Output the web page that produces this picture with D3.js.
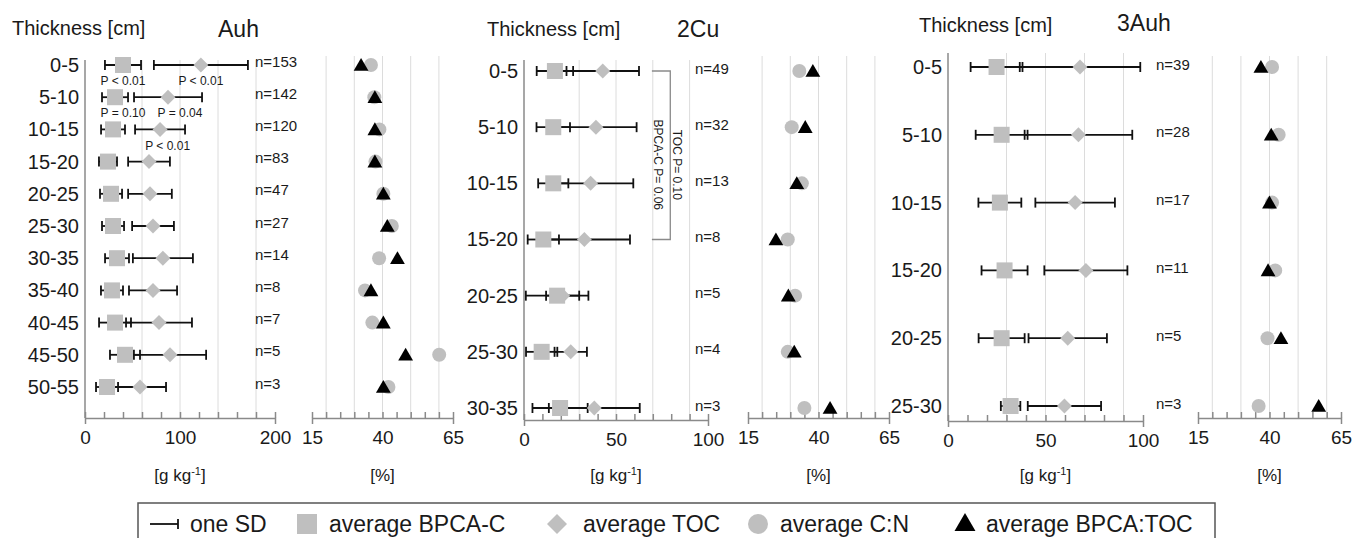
<!DOCTYPE html>
<html>
<head>
<meta charset="utf-8">
<script src="https://cdn.jsdelivr.net/npm/d3@7"></script>
<style>
  body { margin: 0; background: #fff; }
  text { font-family: "Liberation Sans", Arial, sans-serif; fill: #1a1a1a; }
</style>
</head>
<body>
<div id="chart"></div>
<script>
// Auh horizon
var depthsAuh = ["0-5", "5-10", "10-15", "15-20", "20-25", "25-30", "30-35", "35-40", "40-45", "45-50", "50-55"];
var nAuh = [153, 142, 120, 83, 47, 27, 14, 8, 7, 5, 3];
var bpcaAuh = [40, 31.6, 29.5, 24.2, 27.4, 29.5, 33.7, 28.4, 31.6, 42.1, 23.2];
var bpcaSdAuh = [19, 13.7, 12.6, 9.5, 11.6, 11.6, 12.6, 11.6, 16.8, 15.8, 11.6];
var tocAuh = [122, 87.4, 79, 67.4, 68.4, 71.6, 82, 71.6, 77.9, 89.5, 57.9];
var tocSdAuh = [49.5, 35.8, 26.3, 22, 23, 22, 31.6, 25.3, 34.7, 38, 27.4];
var cnAuh = [35.9, 37.1, 38.9, 37.5, 40.3, 43.3, 38.8, 33.8, 36.4, 60.1, 42.1];
var ratioAuh = [32.4, 37.3, 37.3, 37.3, 40.3, 41.7, 45.3, 35.9, 40.3, 48.2, 40.3];

// 2Cu horizon
var depths2Cu = ["0-5", "5-10", "10-15", "15-20", "20-25", "25-30", "30-35"];
var n2Cu = [49, 32, 13, 8, 5, 4, 3];
var bpca2Cu = [16.8, 15.9, 15.9, 10.5, 18, 9.6, 19.6];
var bpcaSd2Cu = [9.9, 9.1, 8.2, 8.5, 17, 8.5, 15];
var toc2Cu = [42.8, 39.1, 36.2, 32.8, 21, 25.4, 38.2];
var tocSd2Cu = [19.7, 22.1, 23.2, 24.8, 9, 8.8, 24.7];
var cn2Cu = [33.2, 30.5, 34.1, 29.1, 31.7, 29.1, 35];
var ratio2Cu = [38.0, 35.3, 32.3, 24.9, 29.3, 31.4, 44.1];

// 3Auh horizon
var depths3Auh = ["0-5", "5-10", "10-15", "15-20", "20-25", "25-30"];
var n3Auh = [39, 28, 17, 11, 5, 3];
var bpca3Auh = [24.9, 27.5, 26.6, 29, 27.5, 32.1];
var bpcaSd3Auh = [13.3, 13.3, 11, 11.8, 11.8, 5];
var toc3Auh = [67.7, 66.9, 65.2, 70.7, 61.4, 59.7];
var tocSd3Auh = [30.9, 27.6, 20.4, 21.3, 20.1, 18.8];
var cn3Auh = [40.9, 43.2, 40.9, 42, 39.3, 36.2];
var ratio3Auh = [37, 40.6, 40, 39.5, 44, 57.2];

// P values (Auh): text, value position, row position (between rows)
var pTextAuh = ["P < 0.01", "P < 0.01", "P = 0.10", "P = 0.04", "P < 0.01"];
var pValAuh = [40, 122, 40, 100, 87];
var pRowAuh = [0.5, 0.5, 1.5, 1.5, 2.5];

var pctTicks = [15, 20, 25, 30, 35, 40, 45, 50, 55, 60, 65];
var pctLabels = [15, 40, 65];
var pctGrid = [20, 30, 40, 50, 60];

var grey = "#bfbfbf", axisCol = "#8a8a8a", gridCol = "#dcdcdc";

var panels = [
  { title: "Auh", depths: depthsAuh, n: nAuh, bpca: bpcaAuh, bpcaSd: bpcaSdAuh, toc: tocAuh, tocSd: tocSdAuh,
    cn: cnAuh, ratio: ratioAuh, max: 200, ticks: d3.range(0, 201, 20), labels: [0, 100, 200], grid: [60, 100, 140, 180],
    xL: [85, 275], xR: [312, 453], yTop: 60, yBot: 418, yRight: 418, rows: [65, 387], nX: 255, nDy: -4,
    thickX: 12, thickY: 35, titleX: 218, titleY: 37 },
  { title: "2Cu", depths: depths2Cu, n: n2Cu, bpca: bpca2Cu, bpcaSd: bpcaSd2Cu, toc: toc2Cu, tocSd: tocSd2Cu,
    cn: cn2Cu, ratio: ratio2Cu, max: 100, ticks: d3.range(0, 101, 10), labels: [0, 50, 100], grid: [30, 50, 70, 90],
    xL: [524, 708], xR: [748, 889], yTop: 60, yBot: 420, yRight: 418, rows: [71, 408], nX: 695, nDy: -3,
    thickX: 487, thickY: 36, titleX: 677, titleY: 37 },
  { title: "3Auh", depths: depths3Auh, n: n3Auh, bpca: bpca3Auh, bpcaSd: bpcaSd3Auh, toc: toc3Auh, tocSd: tocSd3Auh,
    cn: cn3Auh, ratio: ratio3Auh, max: 100, ticks: d3.range(0, 101, 10), labels: [0, 50, 100], grid: [30, 50, 70, 90],
    xL: [948, 1143], xR: [1198, 1341], yTop: 53, yBot: 421, yRight: 418, rows: [67, 406], nX: 1156, nDy: -3,
    thickX: 919, thickY: 32, titleX: 1117, titleY: 31 }
];

var svg = d3.select("#chart")
  .append("svg")
  .attr("width", 1353)
  .attr("height", 538);

function styleAxis(sel) {
  sel.attr("font-family", null).attr("font-size", null);
  sel.select(".domain").attr("stroke", axisCol).attr("stroke-width", 1.5);
  sel.selectAll(".tick line").attr("stroke", axisCol).attr("stroke-width", 1.5);
  sel.selectAll(".tick text").attr("fill", "#1a1a1a").style("font-size", "19px");
}

function errorBar(g, cls, data, x, y) {
  var eb = g.selectAll("." + cls).data(data).enter().append("g").attr("class", cls);
  eb.append("line")
    .attr("x1", d => x(d.m - d.sd)).attr("x2", d => x(d.m + d.sd))
    .attr("y1", d => y(d.depth)).attr("y2", d => y(d.depth));
  eb.append("line")
    .attr("x1", d => x(d.m - d.sd)).attr("x2", d => x(d.m - d.sd))
    .attr("y1", d => y(d.depth) - 5).attr("y2", d => y(d.depth) + 5);
  eb.append("line")
    .attr("x1", d => x(d.m + d.sd)).attr("x2", d => x(d.m + d.sd))
    .attr("y1", d => y(d.depth) - 5).attr("y2", d => y(d.depth) + 5);
  eb.selectAll("line").attr("stroke", "#111").attr("stroke-width", 1.8);
}

panels.forEach(function(p) {
  var g = svg.append("g");
  var y = d3.scalePoint().domain(p.depths).range(p.rows);
  var x = d3.scaleLinear().domain([0, p.max]).range(p.xL);
  var xr = d3.scaleLinear().domain([15, 65]).range(p.xR);

  // gridlines
  g.selectAll(".gl").data(p.grid).enter().append("line")
    .attr("x1", d => x(d)).attr("x2", d => x(d))
    .attr("y1", p.yTop).attr("y2", p.yBot)
    .attr("stroke", gridCol).attr("stroke-width", 1);
  g.selectAll(".gr").data(pctGrid).enter().append("line")
    .attr("x1", d => xr(d)).attr("x2", d => xr(d))
    .attr("y1", 56).attr("y2", p.yRight)
    .attr("stroke", gridCol).attr("stroke-width", 1);

  // axes
  g.append("g")
    .attr("transform", "translate(0," + p.yBot + ")")
    .call(d3.axisBottom(x).tickValues(p.ticks).tickSize(-6).tickSizeOuter(6).tickPadding(13)
      .tickFormat(d => p.labels.indexOf(d) >= 0 ? d : ""))
    .call(styleAxis);
  g.append("g")
    .attr("transform", "translate(0," + p.yRight + ")")
    .call(d3.axisBottom(xr).tickValues(pctTicks).tickSize(-6).tickSizeOuter(6).tickPadding(13)
      .tickFormat(d => pctLabels.indexOf(d) >= 0 ? d : ""))
    .call(styleAxis);

  g.append("line")
    .attr("x1", p.xL[0]).attr("x2", p.xL[0])
    .attr("y1", p.yTop).attr("y2", p.yBot)
    .attr("stroke", axisCol).attr("stroke-width", 1.5);
  var la = g.append("g")
    .attr("transform", "translate(" + p.xL[0] + ",0)")
    .call(d3.axisLeft(y).tickSize(0).tickPadding(6));
  la.select(".domain").remove();
  la.attr("font-family", null).attr("font-size", null);
  la.selectAll("text").attr("fill", "#1a1a1a").style("font-size", "20px");

  // error bars and markers
  var rowsB = p.depths.map((d, i) => ({ depth: d, m: p.bpca[i], sd: p.bpcaSd[i] }));
  var rowsT = p.depths.map((d, i) => ({ depth: d, m: p.toc[i], sd: p.tocSd[i] }));
  errorBar(g, "ebB", rowsB, x, y);
  errorBar(g, "ebT", rowsT, x, y);

  g.selectAll(".dia").data(rowsT).enter().append("path")
    .attr("d", d3.symbol(d3.symbolSquare, 112)())
    .attr("transform", d => "translate(" + x(d.m) + "," + y(d.depth) + ") rotate(45)")
    .attr("fill", grey);
  g.selectAll(".sq").data(rowsB).enter().append("rect")
    .attr("x", d => x(d.m) - 8).attr("y", d => y(d.depth) - 8)
    .attr("width", 16).attr("height", 16)
    .attr("fill", grey);

  g.selectAll(".cn").data(p.depths).enter().append("circle")
    .attr("cx", (d, i) => xr(p.cn[i])).attr("cy", d => y(d))
    .attr("r", 7).attr("fill", grey);
  g.selectAll(".tri").data(p.depths).enter().append("path")
    .attr("d", d3.symbol(d3.symbolTriangle, 95)())
    .attr("transform", (d, i) => "translate(" + xr(p.ratio[i]) + "," + (y(d) + 1.5) + ")")
    .attr("fill", "#000");

  // n labels
  g.selectAll(".nl").data(p.n).enter().append("text")
    .attr("x", p.nX).attr("y", (d, i) => y(p.depths[i]) + p.nDy)
    .attr("dominant-baseline", "central")
    .style("font-size", "15px")
    .text(d => "n=" + d);

  // headings
  g.append("text").attr("x", p.thickX).attr("y", p.thickY)
    .style("font-size", "20px").text("Thickness [cm]");
  g.append("text").attr("x", p.titleX).attr("y", p.titleY)
    .style("font-size", "23px").text(p.title);

  // units
  var u = g.append("text").attr("x", (p.xL[0] + p.xL[1]) / 2).attr("y", 481)
    .attr("text-anchor", "middle").style("font-size", "17px");
  u.append("tspan").text("[g kg");
  u.append("tspan").attr("dy", -6).style("font-size", "11px").text("-1");
  u.append("tspan").attr("dy", 6).text("]");
  g.append("text").attr("x", (p.xR[0] + p.xR[1]) / 2).attr("y", 481)
    .attr("text-anchor", "middle").style("font-size", "17px").text("[%]");

  p.x = x; p.y = y;
});

// P values in Auh
var p1 = panels[0];
var rowY = d3.scaleLinear().domain([0, depthsAuh.length - 1]).range(p1.rows);
svg.selectAll(".pv").data(pTextAuh).enter().append("text")
  .attr("x", (d, i) => p1.x(pValAuh[i]))
  .attr("y", (d, i) => rowY(pRowAuh[i]))
  .attr("text-anchor", "middle").attr("dominant-baseline", "central")
  .style("font-size", "12px")
  .text(d => d);

// bracket in 2Cu
var p2 = panels[1];
var rowY2 = d3.scaleLinear().domain([0, depths2Cu.length - 1]).range(p2.rows);
svg.append("path")
  .attr("d", "M" + p2.x(69.5) + "," + rowY2(0) + "H" + p2.x(79.5) + "V" + rowY2(3) + "H" + p2.x(69.5))
  .attr("fill", "none").attr("stroke", "#8a8a8a").attr("stroke-width", 1.3);
svg.append("text")
  .attr("transform", "translate(" + p2.x(73) + "," + rowY2(1.67) + ") rotate(90)")
  .attr("text-anchor", "middle").attr("dominant-baseline", "central")
  .style("font-size", "12px").text("BPCA-C P= 0.06");
svg.append("text")
  .attr("transform", "translate(" + p2.x(83) + "," + rowY2(1.67) + ") rotate(90)")
  .attr("text-anchor", "middle").attr("dominant-baseline", "central")
  .style("font-size", "12px").text("TOC P= 0.10");

// legend
var lg = svg.append("g");
var ly = 524;
lg.append("rect").attr("x", 138).attr("y", 503).attr("width", 1077).attr("height", 45)
  .attr("fill", "none").attr("stroke", "#555").attr("stroke-width", 1.5);
lg.append("line").attr("x1", 150).attr("x2", 178).attr("y1", ly).attr("y2", ly)
  .attr("stroke", "#111").attr("stroke-width", 1.8);
lg.append("line").attr("x1", 178).attr("x2", 178).attr("y1", ly - 5).attr("y2", ly + 5)
  .attr("stroke", "#111").attr("stroke-width", 1.8);
lg.append("rect").attr("x", 297).attr("y", ly - 10).attr("width", 20).attr("height", 20).attr("fill", grey);
lg.append("path").attr("d", d3.symbol(d3.symbolSquare, 200)())
  .attr("transform", "translate(557," + ly + ") rotate(45)").attr("fill", grey);
lg.append("circle").attr("cx", 758).attr("cy", ly).attr("r", 10).attr("fill", grey);
lg.append("path").attr("d", d3.symbol(d3.symbolTriangle, 190)())
  .attr("transform", "translate(965," + (ly + 1) + ")").attr("fill", "#000");

var legendText = ["one SD", "average BPCA-C", "average TOC", "average C:N", "average BPCA:TOC"];
var legendX = [190, 329, 583, 780, 986];
lg.selectAll(".lt").data(legendText).enter().append("text")
  .attr("x", (d, i) => legendX[i]).attr("y", ly)
  .attr("dominant-baseline", "central")
  .style("font-size", "23px")
  .text(d => d);
</script>
</body>
</html>
